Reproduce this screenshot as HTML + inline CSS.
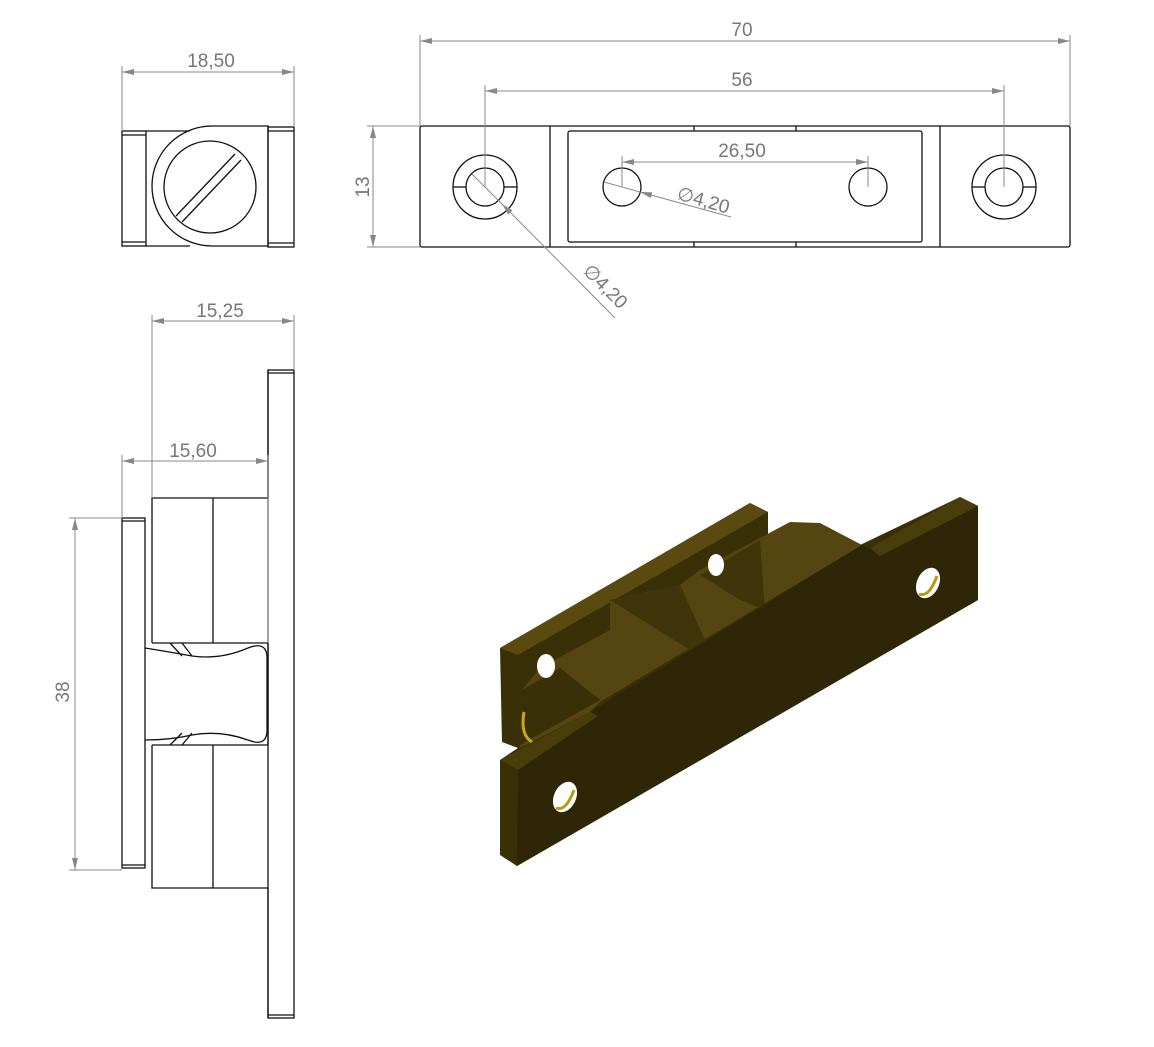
<!DOCTYPE html>
<html><head><meta charset="utf-8"><style>
html,body{margin:0;padding:0;background:#fff;}
svg{display:block;}
text{font-family:"Liberation Sans",sans-serif;fill:#777;font-size:19px;}
.k{stroke:#111;stroke-width:1.3;fill:none;}
.g{stroke:#8a8a8a;stroke-width:1;fill:none;}
</style></head><body>
<svg width="1154" height="1047" viewBox="0 0 1154 1047" xmlns="http://www.w3.org/2000/svg">
<defs>
<marker id="a" viewBox="0 0 12 6" refX="12" refY="3" markerWidth="12" markerHeight="6" orient="auto-start-reverse" markerUnits="userSpaceOnUse"><path d="M0,0 L12,3 L0,6z" fill="#888"/></marker>
</defs>

<!-- Top-left view -->
<g class="k">
<rect x="122" y="131" width="24" height="115"/>
<line x1="122" y1="135" x2="146" y2="135"/><line x1="122" y1="242" x2="146" y2="242"/>
<line x1="146" y1="131" x2="190" y2="131"/><line x1="146" y1="246" x2="190" y2="246"/>
<path d="M212,126 A60,60 0 0 0 212,246"/>
<path d="M212,126 H268 V246 H212"/>
<rect x="268" y="127" width="26" height="120"/>
<line x1="268" y1="131" x2="294" y2="131"/><line x1="268" y1="243" x2="294" y2="243"/>
<circle cx="210" cy="187" r="46"/>
<line x1="176" y1="216" x2="235" y2="154"/>
<line x1="182" y1="222" x2="241" y2="160"/>
</g>
<g class="g">
<line x1="122" y1="66" x2="122" y2="131"/><line x1="294" y1="66" x2="294" y2="127"/>
<line x1="122" y1="72" x2="294" y2="72" marker-start="url(#a)" marker-end="url(#a)"/>
</g>
<text x="211" y="67" text-anchor="middle">18,50</text>

<!-- Top-right view -->
<g class="k">
<rect x="420" y="126" width="650" height="121" rx="2"/>
<line x1="550" y1="126" x2="550" y2="247"/>
<line x1="940" y1="126" x2="940" y2="247"/>
<rect x="568" y="131" width="354" height="111" rx="2"/>
<line x1="694" y1="126" x2="694" y2="131"/><line x1="796" y1="126" x2="796" y2="131"/>
<line x1="694" y1="242" x2="694" y2="247"/><line x1="796" y1="242" x2="796" y2="247"/>
<circle cx="485" cy="187" r="32"/><circle cx="485" cy="187" r="19"/>
<line x1="453" y1="187" x2="466" y2="187"/><line x1="504" y1="187" x2="517" y2="187"/>
<circle cx="1004" cy="187" r="32"/><circle cx="1004" cy="187" r="19"/>
<line x1="972" y1="187" x2="985" y2="187"/><line x1="1023" y1="187" x2="1036" y2="187"/>
<circle cx="622" cy="187" r="19"/><circle cx="868" cy="187" r="19"/>
</g>
<g class="g">
<line x1="420" y1="35" x2="420" y2="126"/><line x1="1070" y1="35" x2="1070" y2="126"/>
<line x1="420" y1="41" x2="1070" y2="41" marker-start="url(#a)" marker-end="url(#a)"/>
<line x1="485" y1="85" x2="485" y2="187"/><line x1="1004" y1="85" x2="1004" y2="187"/>
<line x1="485" y1="91" x2="1004" y2="91" marker-start="url(#a)" marker-end="url(#a)"/>
<line x1="622" y1="156" x2="622" y2="187"/><line x1="868" y1="156" x2="868" y2="187"/>
<line x1="622" y1="162" x2="868" y2="162" marker-start="url(#a)" marker-end="url(#a)"/>
<line x1="367" y1="126" x2="420" y2="126"/><line x1="367" y1="247" x2="420" y2="247"/>
<line x1="373" y1="126" x2="373" y2="247" marker-start="url(#a)" marker-end="url(#a)"/>
<line x1="615" y1="318" x2="502" y2="204" marker-end="url(#a)"/>
<line x1="502" y1="204" x2="472" y2="174"/>
<line x1="731" y1="217" x2="640" y2="192" marker-end="url(#a)"/>
<line x1="640" y1="192" x2="604" y2="182"/>
</g>
<text x="742" y="36" text-anchor="middle">70</text>
<text x="742" y="86" text-anchor="middle">56</text>
<text x="742" y="157" text-anchor="middle">26,50</text>
<text transform="translate(369,187) rotate(-90)" text-anchor="middle">13</text>
<text transform="translate(676,199) rotate(16)" font-size="19">∅4,20</text>
<text transform="translate(582,272) rotate(45)" font-size="19">∅4,20</text>

<!-- Side view -->
<g class="k">
<rect x="268" y="370" width="26" height="648"/>
<line x1="268" y1="373" x2="294" y2="373"/><line x1="268" y1="1015" x2="294" y2="1015"/>
<path d="M268,370 V498 H152 V643"/>
<line x1="213" y1="498" x2="213" y2="643"/>
<line x1="152" y1="643" x2="268" y2="643"/>
<path d="M268,643 V745 M152,745 H268 M152,745 V888 H268 V1018"/>
<line x1="213" y1="745" x2="213" y2="888"/>
<rect x="122" y="518" width="23" height="350"/>
<line x1="122" y1="521" x2="145" y2="521"/><line x1="122" y1="865" x2="145" y2="865"/>
<path d="M145,648 Q170,652 192,656 Q220,660 248,648 Q268,640 267,660 V728 Q268,748 248,740 Q220,730 192,735 Q170,740 145,740"/>
<path d="M170,643 L182,656 M182,643 L192,656 M170,745 L182,733 M182,745 L192,733"/>
</g>
<g class="g">
<line x1="152" y1="315" x2="152" y2="498"/><line x1="294" y1="315" x2="294" y2="370"/>
<line x1="152" y1="321" x2="294" y2="321" marker-start="url(#a)" marker-end="url(#a)"/>
<line x1="122" y1="455" x2="122" y2="518"/>
<line x1="268" y1="455" x2="268" y2="643"/>
<line x1="122" y1="461" x2="268" y2="461" marker-start="url(#a)" marker-end="url(#a)"/>
<line x1="69" y1="518" x2="122" y2="518"/><line x1="69" y1="870" x2="122" y2="870"/>
<line x1="75" y1="518" x2="75" y2="870" marker-start="url(#a)" marker-end="url(#a)"/>
</g>
<text x="220" y="317" text-anchor="middle">15,25</text>
<text x="193" y="457" text-anchor="middle">15,60</text>
<text transform="translate(69,692) rotate(-90)" text-anchor="middle">38</text>

<!-- 3D render -->
<g>
<!-- back plate + base fill -->
<polygon points="500,648 750,503 768,512 768,535 860,545 960,497 978,506 978,600 517,866 500,855 500,760 518,748 502,742" fill="#3a3008"/>
<polygon points="500,648 750,503 768,512 518,655" fill="#5a4a10"/>
<!-- roller tops -->
<polygon points="522,690 540,668 610,630 610,600 680,585 700,570 790,522 820,523 862,545 600,702 590,712 520,748" fill="#554510"/>
<polygon points="610,600 680,585 705,640 690,650" fill="#40350a"/>
<polygon points="700,575 760,540 765,610 740,600" fill="#40350a"/>
<polygon points="522,690 560,668 600,700 520,745" fill="#3a3008"/>
<!-- front plate + body front -->
<polygon points="500,760 590,712 862,545 870,548 960,497 978,506 978,600 517,866" fill="#2e2606"/>
<polygon points="500,760 590,712 598,716 518,770" fill="#4a3d0c"/>
<polygon points="870,548 960,497 978,506 880,556" fill="#4a3d0c"/>
<polygon points="500,760 518,770 517,866 502,855" fill="#3a3008"/>
<ellipse cx="565" cy="797" rx="11" ry="16" fill="#fff" transform="rotate(25 565 797)"/>
<path d="M556,808 Q566,812 574,790" stroke="#b89a10" stroke-width="3" fill="none"/>
<ellipse cx="928" cy="583" rx="11" ry="16" fill="#fff" transform="rotate(25 928 583)"/>
<path d="M919,594 Q929,598 937,576" stroke="#b89a10" stroke-width="3" fill="none"/>
<ellipse cx="546" cy="666" rx="9" ry="12" fill="#fff"/>
<ellipse cx="716" cy="565" rx="8" ry="11" fill="#fff"/>
<path d="M524,712 Q520,735 532,742" stroke="#c8a818" stroke-width="3" fill="none"/>
</g>
</svg>
</body></html>
